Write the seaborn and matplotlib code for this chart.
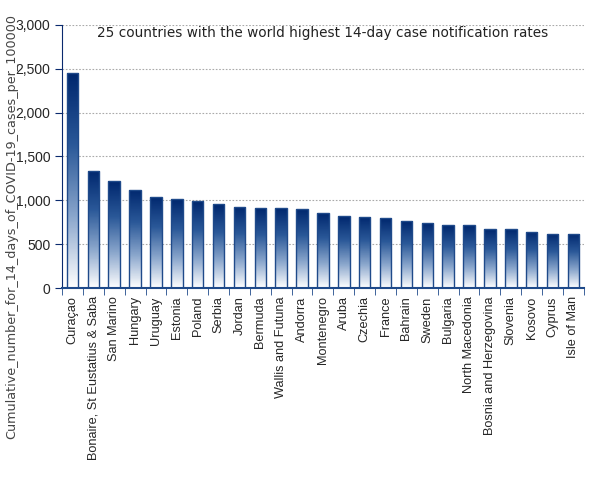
import numpy as np
import matplotlib
matplotlib.use("Agg")
import matplotlib.pyplot as plt
import matplotlib.ticker as mticker
from matplotlib.colors import LinearSegmentedColormap
import seaborn as sns
import pandas as pd

countries = ["Curaçao", "Bonaire, St Eustatius & Saba", "San Marino", "Hungary", "Uruguay",
             "Estonia", "Poland", "Serbia", "Jordan", "Bermuda", "Wallis and Futuna", "Andorra",
             "Montenegro", "Aruba", "Czechia", "France", "Bahrain", "Sweden", "Bulgaria",
             "North Macedonia", "Bosnia and Herzegovina", "Slovenia", "Kosovo", "Cyprus", "Isle of Man"]
rates = [2452, 1335, 1220, 1118, 1038, 1015, 992, 958, 924, 912, 912, 901,
         855, 821, 810, 798, 760, 738, 715, 715, 669, 669, 639, 616, 616]

title = "25 countries with the world highest 14-day case notification rates"
ylabel = "Cumulative_number_for_14_days_of_COVID-19_cases_per_100000"

df = pd.DataFrame({"country": countries, "rate": rates})

sns.set_style("white")
plt.rcParams['font.family'] = ['Liberation Sans', 'DejaVu Sans']

navy = "#0a2a6e"
fig = plt.figure(figsize=(6.05, 4.8), dpi=100)
ax = fig.add_axes([0.1025, 0.4, 0.8625, 0.548])

sns.barplot(data=df, x="country", y="rate", color=navy, width=0.55, ax=ax,
            edgecolor="#1f4a8a", linewidth=1.0, saturation=1)

# gradient fill for every bar
cmap = LinearSegmentedColormap.from_list("grad", ["#ffffff", "#8aa6cc", "#2a5898", "#00276e"])
grad = np.linspace(0, 1, 256).reshape(-1, 1)
for p in ax.patches:
    x0, y0 = p.get_x(), p.get_y()
    w, h = p.get_width(), p.get_height()
    p.set_facecolor("none")
    im = ax.imshow(grad, cmap=cmap, aspect="auto", origin="lower",
                   extent=[x0, x0 + w, y0, y0 + h], zorder=2, interpolation="nearest")
    im.set_clip_path(p)
    p.set_zorder(3)

ax.set_xlim(-0.5, len(countries) - 0.5)
ax.set_ylim(0, 3000)
ax.yaxis.set_major_locator(mticker.MultipleLocator(500))
ax.yaxis.set_major_formatter(mticker.FuncFormatter(lambda v, _: f"{int(v):,}"))
ax.grid(axis="y", color="#aaaaaa", linestyle=(0, (1.5, 1.5)), linewidth=0.8)
ax.set_axisbelow(True)

ax.set_xticks(range(len(countries)))
ax.set_xticklabels(countries, rotation=90, fontsize=9.2)
ax.xaxis.set_minor_locator(mticker.FixedLocator(np.arange(-0.5, len(countries), 1)))
ax.tick_params(axis="x", which="major", length=0, pad=6)
ax.tick_params(axis="x", which="minor", length=5, color="#1f4a8a", direction="out", bottom=True)
ax.tick_params(axis="y", length=5, color=navy, direction="out", left=True, labelsize=10)

for s in ["top", "right"]:
    ax.spines[s].set_visible(False)
ax.spines["left"].set_color(navy)
ax.spines["bottom"].set_color("#1f4a8a")
ax.spines["bottom"].set_linewidth(1.5)

ax.set_xlabel("")
ax.set_ylabel(ylabel, fontsize=9.2, color="#444444", family=["DejaVu Sans"])
ax.yaxis.set_label_coords(-0.083, 0.235)
ax.text(0.5, 0.995, title, transform=ax.transAxes, ha="center", va="top", fontsize=9.8,
        color="#222222", family=["DejaVu Sans"])

fig.savefig("out.png", dpi=100)
